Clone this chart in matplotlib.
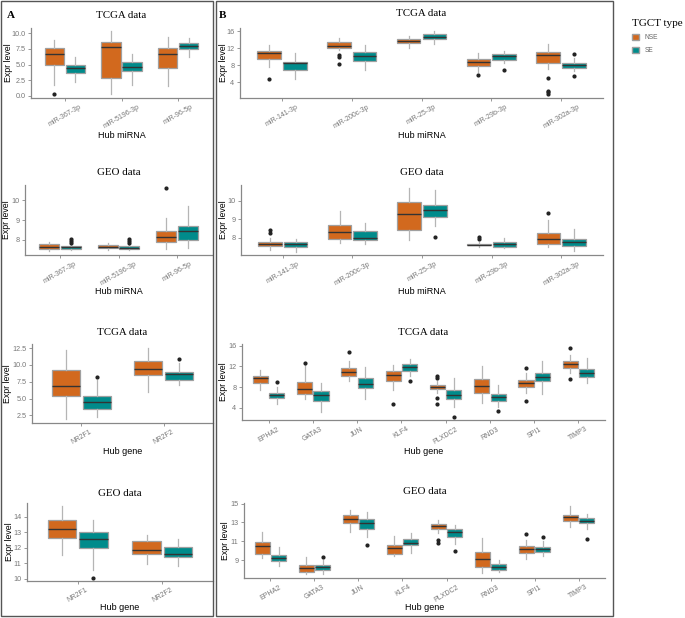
import matplotlib
matplotlib.use("Agg")
import matplotlib.pyplot as plt
from matplotlib.patches import Patch, Rectangle

plt.rcParams["font.family"] = ["Liberation Sans", "DejaVu Sans"]

# box stats per group: [whisker low, q1, median, q3, whisker high]
mir_a = ["miR-367-3p", "miR-5196-3p", "miR-96-5p"]
gene_a = ["NR2F1", "NR2F2"]
mir_b = ["miR-141-3p", "miR-200c-3p", "miR-25-3p", "miR-29b-3p", "miR-302a-3p"]
gene_b = ["EPHA2", "GATA3", "JUN", "KLF4", "PLXDC2", "RND3", "SPI1", "TIMP3"]

# A - TCGA miRNA
a1_nse = [[1.7, 5.0, 6.7, 7.6, 8.9], [0.27, 2.94, 7.8, 8.55, 10.3], [1.55, 4.4, 6.7, 7.7, 9.47]]
a1_nse_out = [[0.27], [], []]
a1_se = [[2.25, 3.64, 4.4, 4.87, 6.15], [1.7, 3.96, 4.7, 5.45, 6.7], [6.26, 7.43, 7.95, 8.45, 9.3]]
a1_se_out = [[], [], []]

# A - GEO miRNA
a2_nse = [[7.45, 7.56, 7.66, 7.78, 7.88], [7.5, 7.58, 7.66, 7.75, 7.87], [7.53, 7.9, 8.17, 8.47, 9.13]]
a2_nse_out = [[], [], [10.6]]
a2_se = [[7.5, 7.56, 7.63, 7.7, 7.8], [7.48, 7.56, 7.61, 7.7, 7.8], [7.58, 8.0, 8.45, 8.7, 9.71]]
a2_se_out = [[7.87, 7.95, 8.03], [7.87, 7.95, 8.03], []]

# A - TCGA gene
a3_nse = [[1.96, 5.42, 6.9, 9.28, 12.15], [5.97, 8.44, 9.43, 10.62, 12.5]]
a3_nse_out = [[], []]
a3_se = [[2.25, 3.49, 4.48, 5.37, 7.8], [7.0, 7.8, 8.64, 8.99, 10.27]]
a3_se_out = [[8.14], [10.87]]

# A - GEO gene
a4_nse = [[11.54, 12.62, 13.2, 13.79, 14.7], [10.97, 11.62, 11.88, 12.47, 12.84]]
a4_nse_out = [[], []]
a4_se = [[10.58, 12.01, 12.58, 13.05, 13.79], [10.8, 11.41, 11.62, 12.08, 12.58]]
a4_se_out = [[10.04], []]

# B - TCGA miRNA
b1_nse = [[7.66, 9.56, 10.84, 11.4, 12.8], [11.5, 12.0, 12.66, 13.4, 14.4], [12.0, 13.14, 13.7, 14.2, 14.8],
          [6.46, 7.9, 8.85, 9.4, 11.0], [7.02, 8.6, 10.44, 11.08, 13.06]]
b1_nse_out = [[4.7], [10.4, 10.0, 8.2], [], [5.6], [5.0, 1.9, 1.6, 1.2]]
b1_se = [[4.64, 6.78, 8.45, 8.85, 11.0], [6.86, 9.0, 10.1, 11.2, 12.8], [13.0, 14.1, 14.7, 15.3, 16.0],
         [8.6, 9.25, 10.2, 10.76, 11.4], [6.7, 7.27, 8.06, 8.6, 9.6]]
b1_se_out = [[], [], [], [6.94], [10.6, 5.5]]

# B - GEO miRNA
b2_nse = [[7.33, 7.53, 7.64, 7.76, 8.0], [7.69, 7.95, 8.29, 8.67, 9.45], [7.87, 8.42, 9.27, 9.96, 10.7],
          [7.51, 7.58, 7.62, 7.65, 7.78], [7.47, 7.65, 7.93, 8.27, 8.96]]
b2_nse_out = [[8.27, 8.42], [], [], [7.93, 8.02], [9.36]]
b2_se = [[7.24, 7.5, 7.64, 7.75, 7.9], [7.64, 7.87, 8.0, 8.38, 8.82], [8.64, 9.15, 9.5, 9.78, 10.6],
         [7.42, 7.51, 7.64, 7.78, 7.96], [7.29, 7.55, 7.76, 7.91, 8.45]]
b2_se_out = [[], [], [8.05], [], []]

# B - TCGA gene
b3_nse = [[7.48, 8.77, 9.68, 10.06, 11.35], [5.8, 6.71, 7.61, 8.97, 12.3], [9.1, 10.2, 10.9, 11.68, 12.97],
          [7.48, 9.16, 10.32, 11.16, 12.26], [6.97, 7.61, 8.0, 8.5, 9.1], [4.9, 6.84, 8.13, 9.55, 12.0],
          [6.97, 8.0, 8.77, 9.42, 10.7], [10.7, 11.68, 12.45, 12.97, 14.26]]
b3_nse_out = [[], [12.65], [14.77], [4.77], [10.06, 9.74, 5.87, 4.71], [], [11.68, 5.42], [15.55, 9.6]]
b3_se = [[4.71, 5.87, 6.45, 6.84, 8.0], [3.29, 5.42, 6.58, 7.23, 8.77], [5.74, 7.74, 8.7, 9.68, 11.8],
         [10.06, 11.03, 11.8, 12.45, 13.5], [4.26, 5.68, 6.45, 7.48, 9.8], [4.26, 5.42, 6.06, 6.65, 8.45],
         [6.71, 9.1, 9.87, 10.7, 12.97], [8.77, 9.94, 10.7, 11.55, 13.6]]
b3_se_out = [[8.97], [], [], [9.16], [2.32], [3.42], [], []]

# B - GEO gene
b4_nse = [[9.2, 9.63, 10.5, 10.96, 12.0], [7.5, 7.77, 8.12, 8.47, 9.28], [12.0, 12.9, 13.35, 13.77, 14.37],
          [9.39, 9.6, 10.26, 10.61, 11.56], [11.9, 12.26, 12.61, 12.82, 13.3], [7.63, 8.26, 9.14, 9.91, 11.32],
          [9.1, 9.74, 10.16, 10.51, 11.14], [12.54, 13.17, 13.53, 13.77, 14.72]]
b4_nse_out = [[], [], [], [], [11.14, 10.79], [], [11.77], []]
b4_se = [[8.4, 8.86, 9.18, 9.53, 10.37], [7.53, 7.98, 8.26, 8.5, 9.0], [11.42, 12.3, 12.96, 13.35, 14.12],
         [9.8, 10.61, 10.79, 11.2, 11.9], [10.68, 11.42, 11.95, 12.3, 12.72], [7.7, 7.98, 8.26, 8.54, 9.04],
         [9.39, 9.91, 10.16, 10.37, 11.07], [12.3, 12.9, 13.2, 13.5, 13.95]]
b4_se_out = [[], [9.32], [10.61], [], [10.02], [], [11.42], [11.2]]

NSE_COLOR = "#D2691E"
SE_COLOR = "#008B8B"
W, H = 685, 618

fig = plt.figure(figsize=(W / 100, H / 100), dpi=100)


def to_stats(vals, outs):
    return [dict(whislo=v[0], q1=v[1], med=v[2], q3=v[3], whishi=v[4], fliers=o) for v, o in zip(vals, outs)]


def draw_panel(rect, labels, nse, nse_out, se, se_out, title, xlabel, ylim, yticks, yticklabels,
               title_y, xlab_y, ylab_x):
    left, right, top, bottom = rect
    ax = fig.add_axes([left / W, 1 - bottom / H, (right - left) / W, (bottom - top) / H])
    n = len(labels)
    pos = list(range(1, n + 1))
    for stats, offs, col in [(to_stats(nse, nse_out), -0.185, NSE_COLOR), (to_stats(se, se_out), 0.185, SE_COLOR)]:
        ax.bxp(stats, positions=[p + offs for p in pos], widths=0.34, patch_artist=True,
               showcaps=False,
               boxprops=dict(facecolor=col, edgecolor="#a0a0a0", linewidth=0.9),
               whiskerprops=dict(color="#b5b5b5", linewidth=0.9),
               medianprops=dict(color="#333333", linewidth=1.0),
               flierprops=dict(marker="o", markersize=2.0, markerfacecolor="#222222",
                               markeredgecolor="#222222"))
    ax.set_xlim(0.4, n + 0.6)
    ax.set_ylim(*ylim)
    ax.set_xticks(pos)
    ax.set_xticklabels(labels, rotation=30, ha="center", va="top", fontsize=5.0, color="#777777")
    ax.set_yticks(yticks)
    ax.set_yticklabels(yticklabels, fontsize=5.2, color="#777777")
    for s in ["top", "right"]:
        ax.spines[s].set_visible(False)
    for s in ["left", "bottom"]:
        ax.spines[s].set_color("#888888")
        ax.spines[s].set_linewidth(0.9)
    ax.tick_params(axis="both", length=2, width=0.6, color="#888888", pad=2)
    h = bottom - top
    w = right - left
    ax.set_xlabel(xlabel, fontsize=6.5)
    ax.xaxis.set_label_coords(0.5, (bottom - xlab_y) / h)
    ax.xaxis.label.set_va("center")
    ax.set_ylabel("Expr level", fontsize=6.3)
    ax.yaxis.set_label_coords((ylab_x - left) / w, 0.5)
    ax.yaxis.label.set_va("center")
    ax.set_title(title, fontsize=7.8, family="Liberation Serif", y=(bottom - title_y) / h, va="center", pad=0)
    return ax


draw_panel((31, 212, 28, 98), mir_a, a1_nse, a1_nse_out, a1_se, a1_se_out, "TCGA data", "Hub miRNA",
           (-0.32, 10.85), [0, 2.5, 5, 7.5, 10], ["0.0", "2.5", "5.0", "7.5", "10.0"], 15, 135, 8)
draw_panel((25, 212, 185, 255), mir_a, a2_nse, a2_nse_out, a2_se, a2_se_out, "GEO data", "Hub miRNA",
           (7.24, 10.77), [8, 9, 10], ["8", "9", "10"], 172, 292, 7)
draw_panel((32, 213, 344, 423), gene_a, a3_nse, a3_nse_out, a3_se, a3_se_out, "TCGA data", "Hub gene",
           (1.36, 13.1), [2.5, 5, 7.5, 10, 12.5], ["2.5", "5.0", "7.5", "10.0", "12.5"], 332, 451, 8)
draw_panel((27, 213, 503, 581), gene_a, a4_nse, a4_nse_out, a4_se, a4_se_out, "GEO data", "Hub gene",
           (9.85, 14.9), [10, 11, 12, 13, 14], ["10", "11", "12", "13", "14"], 493, 608, 9)
draw_panel((240, 603, 28, 98), mir_b, b1_nse, b1_nse_out, b1_se, b1_se_out, "TCGA data", "Hub miRNA",
           (0.26, 16.8), [4, 8, 12, 16], ["4", "8", "12", "16"], 13, 135, 223)
draw_panel((241, 603, 185, 255), mir_b, b2_nse, b2_nse_out, b2_se, b2_se_out, "GEO data", "Hub miRNA",
           (7.05, 10.87), [8, 9, 10], ["8", "9", "10"], 172, 292, 223)
draw_panel((242, 605, 344, 420), gene_b, b3_nse, b3_nse_out, b3_se, b3_se_out, "TCGA data", "Hub gene",
           (1.68, 16.3), [4, 8, 12, 16], ["4", "8", "12", "16"], 332, 451, 224)
draw_panel((244, 605, 503, 578), gene_b, b4_nse, b4_nse_out, b4_se, b4_se_out, "GEO data", "Hub gene",
           (7.1, 15.07), [9, 11, 13, 15], ["9", "11", "13", "15"], 492, 608, 225)

# panel frames
for x0, x1 in [(1, 213), (216, 613)]:
    fig.patches.append(Rectangle((x0 / W, 1 - 616 / H), (x1 - x0) / W, 615 / H, transform=fig.transFigure,
                                 fill=False, edgecolor="#555555", linewidth=1.0))

fig.text(7 / W, 1 - 15 / H, "A", fontsize=8, fontweight="bold", family="Liberation Serif", va="center")
fig.text(219 / W, 1 - 15 / H, "B", fontsize=8, fontweight="bold", family="Liberation Serif", va="center")

handles = [Patch(facecolor=NSE_COLOR, edgecolor="#a0a0a0", label="NSE"),
           Patch(facecolor=SE_COLOR, edgecolor="#a0a0a0", label="SE")]
leg = fig.legend(handles=handles, title="TGCT type", loc="upper left", bbox_to_anchor=(626 / W, 1 - 13 / H),
                 frameon=False, fontsize=4.8, handlelength=1.1, handleheight=0.9, labelspacing=0.9,
                 handletextpad=0.8, alignment="left")
leg.get_title().set_fontfamily("Liberation Serif")
leg.get_title().set_fontsize(8)
for t in leg.get_texts():
    t.set_color("#666666")

fig.savefig("out.png", dpi=100)
